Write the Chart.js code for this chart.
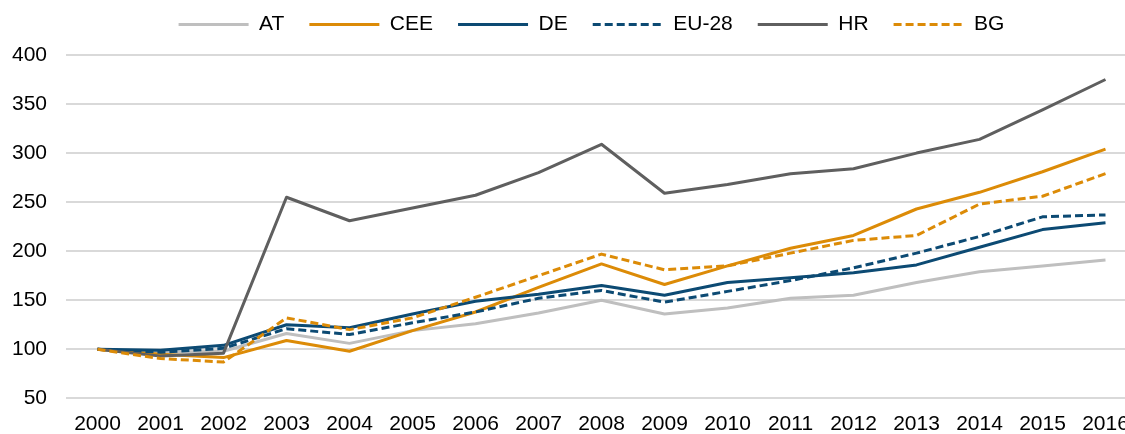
<!DOCTYPE html>
<html>
<head>
<meta charset="utf-8">
<script src="https://cdn.jsdelivr.net/npm/chart.js@4/dist/chart.umd.min.js"></script>
<style>
    body { margin: 0; overflow: hidden; background: #fff; }
    #wrap { width: 1137px; height: 434px; position: relative; }
</style>
</head>
<body>
<div id="wrap"><canvas id="chartIndex"></canvas></div>
<script>
let anos = ['2000', '2001', '2002', '2003', '2004', '2005', '2006', '2007', '2008',
    '2009', '2010', '2011', '2012', '2013', '2014', '2015', '2016'];

let valoresAT = [100, 97, 98, 116, 106, 119, 126, 137, 150, 136, 142, 152, 155, 168, 179, 185, 191];
let valoresCEE = [100, 95, 91.5, 109, 98, 119, 138, 163, 187, 166, 185, 203, 216, 243, 260, 281, 304];
let valoresDE = [100, 99, 104, 125, 122, 136, 149, 156, 165, 155, 168, 173, 178, 186, 204, 222, 229];
let valoresEU = [100, 97, 101, 121, 115, 127, 138, 152, 160, 148, 159, 170, 183, 198, 215, 235, 237];
let valoresHR = [100, 93, 96, 255, 231, 244, 257, 280, 309, 259, 268, 279, 284, 300, 314, 344, 375];
let valoresBG = [100, 90.5, 87, 132, 120, 132, 153, 175, 197, 181, 185, 198, 211, 216, 248, 256, 279];

let ticksY = [50, 100, 150, 200, 250, 300, 350, 400];

let cinzaClaro = '#bfbfbf';
let laranja = '#dc8b07';
let azul = '#0c4a73';
let cinzaEscuro = '#5f5f5f';

let fonte = "'Liberation Sans', Arial, sans-serif";

// lower "order" is drawn on top, so the last series ends up above the others
let linha = (label, data, color, order, dash) => {
    return {
        label: label,
        data: data,
        borderColor: color,
        backgroundColor: color,
        borderWidth: 3,
        borderDash: dash || [],
        borderJoinStyle: 'round',
        pointRadius: 0,
        pointHoverRadius: 0,
        tension: 0,
        fill: false,
        order: order
    };
};

// extra space between the legend and the plot, and legend pulled a bit to the left
let legendGap = {
    id: 'legendGap',
    beforeInit(chart) {
        let fitLegend = chart.legend.fit;
        chart.legend.fit = function () {
            fitLegend.bind(chart.legend)();
            this.height += 10;
        };
    },
    afterLayout(chart) {
        chart.legend.left -= 10;
        chart.legend.right -= 10;
    }
};

let contextIndex = document.querySelector('#chartIndex').getContext('2d');

let config = {
    type: 'line',
    data: {
        labels: anos,
        datasets: [
            linha('AT', valoresAT, cinzaClaro, 6),
            linha('CEE', valoresCEE, laranja, 5),
            linha('DE', valoresDE, azul, 4),
            linha('EU-28', valoresEU, azul, 3, [8, 4]),
            linha('HR', valoresHR, cinzaEscuro, 2),
            linha('BG', valoresBG, laranja, 1, [8, 4])
        ]
    },
    options: {
        responsive: true,
        maintainAspectRatio: false,
        animation: false,
        layout: {
            padding: { top: -11, left: 12, right: 0, bottom: 0 }
        },
        plugins: {
            legend: {
                position: 'top',
                align: 'center',
                fullSize: false,
                labels: {
                    usePointStyle: true,
                    pointStyle: 'line',
                    pointStyleWidth: 70,
                    padding: 25,
                    color: '#000',
                    font: { family: fonte, size: 21 },
                    sort: (a, b) => a.datasetIndex - b.datasetIndex,
                    // point style drops the dash, put it back from the dataset
                    generateLabels: (chart) => {
                        let itens = Chart.defaults.plugins.legend.labels.generateLabels(chart);
                        itens.forEach(item => {
                            item.lineDash = chart.data.datasets[item.datasetIndex].borderDash;
                            item.lineWidth = 3;
                        });
                        return itens;
                    }
                }
            },
            tooltip: { enabled: false }
        },
        scales: {
            x: {
                offset: true,
                grid: { display: false, drawTicks: false },
                border: { display: false },
                afterFit: (scale) => {
                    scale.height = 35.7;
                    // last label may run off the right edge
                    scale.paddingLeft = 0;
                    scale.paddingRight = 0;
                },
                ticks: {
                    color: '#000',
                    padding: 16,
                    maxRotation: 0,
                    autoSkip: false,
                    font: { family: fonte, size: 21, lineHeight: 0.94 }
                }
            },
            y: {
                min: ticksY[0],
                max: ticksY[ticksY.length - 1],
                afterBuildTicks: (scale) => {
                    scale.ticks = ticksY.map(v => ({ value: v }));
                },
                afterFit: (scale) => {
                    scale.width = 54;
                },
                grid: { color: '#d9d9d9', lineWidth: 2, drawTicks: false },
                border: { display: false },
                ticks: {
                    color: '#000',
                    padding: 19,
                    font: { family: fonte, size: 21 }
                }
            }
        }
    },
    plugins: [legendGap]
};

let chartIndex = new Chart(contextIndex, config);
</script>
</body>
</html>
